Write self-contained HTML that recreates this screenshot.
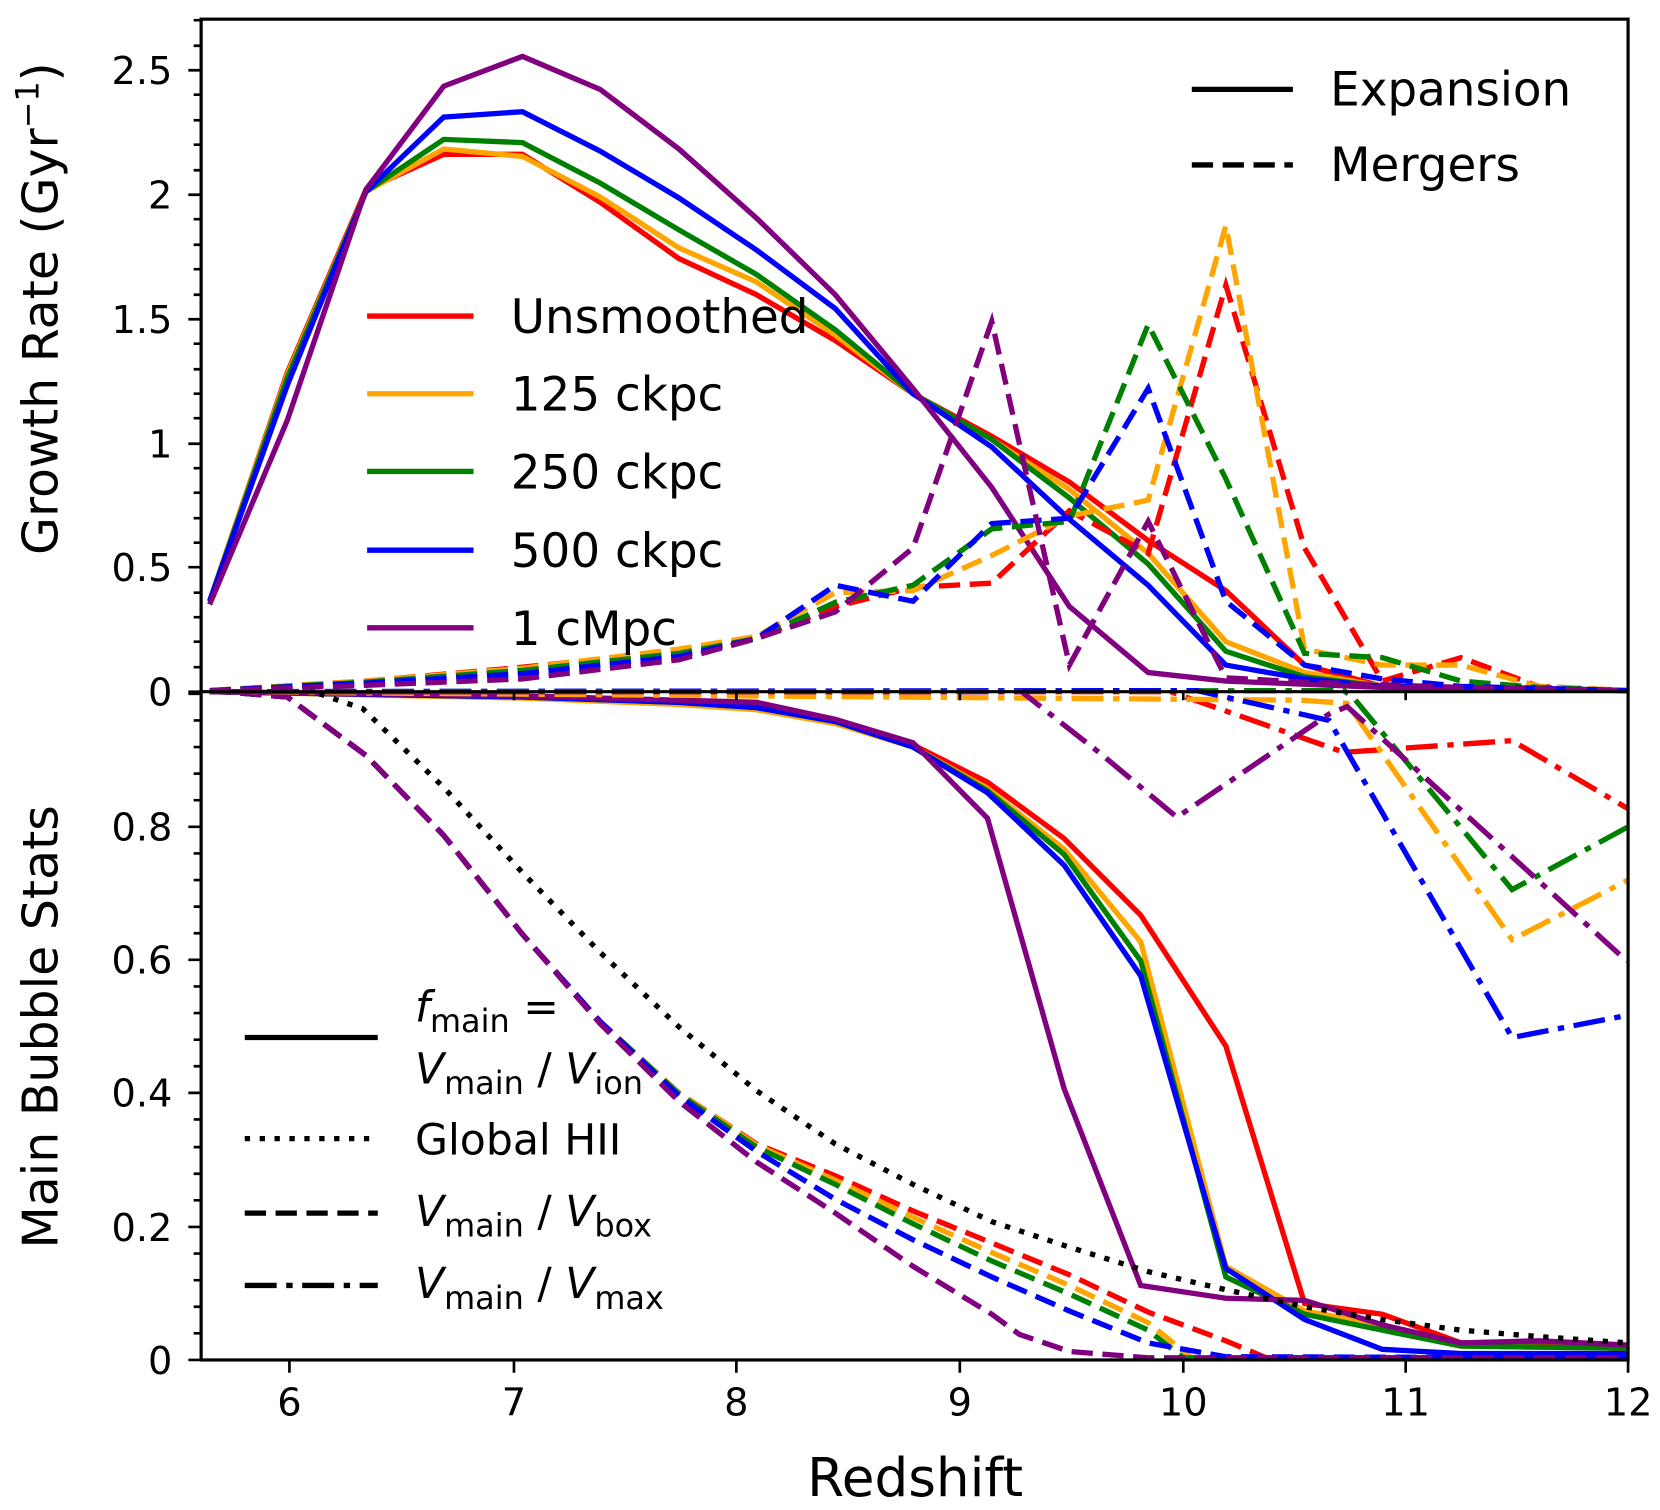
<!DOCTYPE html>
<html><head><meta charset="utf-8"><style>html,body{margin:0;padding:0;background:#fff}svg{display:block}text{font-family:"DejaVu Sans","Liberation Sans",sans-serif;fill:#000}</style></head>
<body>
<svg width="1660" height="1510" viewBox="0 0 1560 1419" preserveAspectRatio="none" xmlns="http://www.w3.org/2000/svg">
<g fill="none" stroke-width="5" stroke-linejoin="miter">
<!-- top solid -->
<polyline stroke="red" points="197,565 270,350 344,178 417,145 491,145 564,190 638,243 711,277 785,320 858,370 932,410 1005,453 1079,508 1152,555 1226,625 1299,645 1530,649"/>
<polyline stroke="orange" points="197,565 270,352 344,180 417,140 491,147 564,185 638,233 711,265 785,315 858,370 932,413 1005,460 1079,520 1152,603 1226,632 1299,645 1530,649"/>
<polyline stroke="green" points="197,565 270,355 344,180 417,131 491,134 564,172 638,216 711,258 785,310 858,370 932,413 1005,468 1079,530 1152,612 1226,636 1299,645 1530,649"/>
<polyline stroke="blue" points="197,565 270,362 344,180 417,110 491,105 564,142 638,186 711,235 785,290 858,370 932,420 1005,488 1079,550 1152,625 1226,638 1299,645 1530,649"/>
<polyline stroke="purple" points="197,568 270,395 344,178 417,81 491,53 564,84 638,140 711,205 785,277 858,365 932,458 1005,570 1079,632 1152,640 1226,643 1299,646 1530,649"/>
<!-- top dashed -->
<g stroke-dasharray="20,9">
<polyline stroke="red" points="197,649 344,640 491,627 638,612 711,600 785,570 858,552 932,548 1005,480 1079,520 1152,268 1226,515 1299,640 1373,618 1446,645 1530,649"/>
<polyline stroke="orange" points="197,649 344,640 491,628 638,610 711,598 785,557 858,555 932,522 1005,485 1079,470 1152,212 1226,610 1299,625 1373,625 1446,645 1530,649"/>
<polyline stroke="green" points="197,649 344,641 491,630 638,614 711,600 785,566 858,550 932,497 1005,490 1079,305 1152,450 1226,614 1299,618 1373,640 1446,646 1530,649"/>
<polyline stroke="blue" points="197,649 344,642 491,633 638,617 711,600 785,550 858,565 932,492 1005,487 1079,365 1152,565 1226,625 1299,638 1373,645 1530,649"/>
<polyline stroke="purple" points="197,649 344,644 491,638 638,620 711,600 785,575 858,515 932,302 1005,625 1079,490 1152,637 1226,641 1373,646 1530,649"/>
</g>
<!-- bottom solid -->
<polyline stroke="red" points="197,650 491,655 638,660 711,665 785,677 858,700 928,735 1000,788 1072,860 1152,983 1226,1225 1299,1235 1373,1262 1446,1262 1530,1268"/>
<polyline stroke="orange" points="197,650 491,656 638,662 711,667 785,680 858,702 928,741 1000,798 1072,885 1152,1190 1226,1232 1299,1245 1373,1265 1530,1267"/>
<polyline stroke="green" points="197,650 491,655 638,660 711,665 785,678 858,702 928,743 1000,803 1072,903 1152,1200 1226,1235 1299,1250 1373,1265 1530,1267"/>
<polyline stroke="blue" points="197,650 491,655 638,660 711,665 785,678 858,702 928,745 1000,813 1072,917 1152,1192 1226,1240 1299,1268 1373,1272 1530,1272"/>
<polyline stroke="purple" points="197,650 491,654 638,658 711,660 785,676 858,698 928,769 1000,1023 1072,1208 1152,1220 1226,1222 1299,1245 1373,1262 1446,1260 1530,1264"/>
<!-- dotted global -->
<polyline stroke="#000" stroke-dasharray="5,9" points="300,652 341,666 417,740 491,820 564,895 638,965 711,1025 785,1075 858,1113 932,1148 1005,1172 1079,1195 1152,1212 1226,1228 1299,1240 1373,1250 1446,1256 1530,1262"/>
<!-- dashed box -->
<g stroke-dasharray="20,9">
<polyline stroke="red" points="197,649 270,655 344,710 417,785 491,878 564,960 638,1027 711,1075 785,1105 858,1138 932,1168 1005,1198 1079,1233 1152,1260 1190,1276 1530,1276"/>
<polyline stroke="orange" points="197,649 270,655 344,710 417,785 491,878 564,960 638,1027 711,1076 785,1109 858,1144 932,1177 1005,1208 1079,1243 1120,1276 1530,1276"/>
<polyline stroke="green" points="197,649 270,655 344,710 417,785 491,878 564,960 638,1028 711,1078 785,1113 858,1150 932,1185 1005,1216 1079,1250 1112,1276 1530,1276"/>
<polyline stroke="blue" points="197,649 270,655 344,710 417,785 491,878 564,960 638,1030 711,1082 785,1127 858,1165 932,1200 1005,1232 1079,1262 1152,1275 1530,1276"/>
<polyline stroke="purple" points="197,649 270,655 344,710 417,785 491,878 564,962 638,1035 711,1092 785,1140 858,1190 932,1235 958,1254 1005,1270 1079,1276 1530,1276"/>
</g>
<!-- dash-dot max -->
<g stroke-dasharray="30,9,6,9">
<polyline stroke="red" points="197,650 1100,650 1263,707 1421,696 1530,760"/>
<polyline stroke="orange" points="197,650 1222,658 1266,661 1421,883 1530,827"/>
<polyline stroke="green" points="197,650 1263,649 1273,657 1421,836 1530,777"/>
<polyline stroke="blue" points="197,650 1125,649 1249,677 1421,975 1530,954"/>
<polyline stroke="purple" points="197,650 960,650 1034,708 1106,768 1249,671 1266,664 1522,897 1530,903"/>
</g>
</g>
<!-- axes -->
<g stroke="#000" stroke-width="3" fill="none">
<rect x="189" y="18" width="1341" height="1260"/>
<line x1="189" y1="650" x2="1530" y2="650"/>
</g>
<g stroke="#000" stroke-width="2.5">
<path d="M272,1278v12M483,1278v12M692,1278v12M902,1278v12M1112,1278v12M1321,1278v12M1530,1278v12"/>
<path d="M483,650v8M692,650v8M902,650v8M1112,650v8M1321,650v8"/>
<path d="M177,650h12M177,533h12M177,417h12M177,300h12M177,183h12M177,66h12"/>
<path d="M182,627h7M182,603h7M182,580h7M182,557h7M182,510h7M182,487h7M182,463h7M182,440h7M182,393h7M182,370h7M182,347h7M182,323h7M182,277h7M182,253h7M182,230h7M182,206h7M182,160h7M182,136h7M182,113h7M182,89h7M182,43h7M182,19h7"/>
<path d="M177,1278h12M177,1153h12M177,1027h12M177,902h12M177,777h12M177,652h12"/>
<path d="M182,1253h7M182,1228h7M182,1203h7M182,1178h7M182,1128h7M182,1103h7M182,1078h7M182,1052h7M182,1002h7M182,977h7M182,952h7M182,927h7M182,877h7M182,852h7M182,827h7M182,802h7M182,752h7M182,727h7M182,702h7M182,677h7"/>
</g>
<g font-size="36" text-anchor="end">
<text x="162" y="663">0</text><text x="162" y="546">0.5</text><text x="162" y="430">1</text><text x="162" y="313">1.5</text><text x="162" y="196">2</text><text x="162" y="79">2.5</text>
<text x="162" y="1291">0</text><text x="162" y="1166">0.2</text><text x="162" y="1040">0.4</text><text x="162" y="915">0.6</text><text x="162" y="790">0.8</text>
</g>
<g font-size="36" text-anchor="middle">
<text x="272" y="1330">6</text><text x="483" y="1330">7</text><text x="692" y="1330">8</text><text x="902" y="1330">9</text><text x="1112" y="1330">10</text><text x="1321" y="1330">11</text><text x="1530" y="1330">12</text>
</g>
<text x="860" y="1406" font-size="50" text-anchor="middle">Redshift</text>
<text transform="translate(54,290) rotate(-90)" font-size="46" text-anchor="middle">Growth Rate  (Gyr<tspan dy="-18" font-size="30">−1</tspan><tspan dy="18">)</tspan></text>
<text transform="translate(54,965) rotate(-90)" font-size="46" text-anchor="middle">Main Bubble Stats</text>
<g stroke-width="5" fill="none">
<line x1="1120" y1="84" x2="1215" y2="84" stroke="#000"/>
<line x1="1120" y1="155" x2="1215" y2="155" stroke="#000" stroke-dasharray="20,9"/>
<line x1="345" y1="297" x2="445" y2="297" stroke="red"/>
<line x1="345" y1="370" x2="445" y2="370" stroke="orange"/>
<line x1="345" y1="443" x2="445" y2="443" stroke="green"/>
<line x1="345" y1="517" x2="445" y2="517" stroke="blue"/>
<line x1="345" y1="590" x2="445" y2="590" stroke="purple"/>
<line x1="230" y1="975" x2="355" y2="975" stroke="#000"/>
<line x1="230" y1="1070" x2="355" y2="1070" stroke="#000" stroke-dasharray="5,9"/>
<line x1="230" y1="1140" x2="355" y2="1140" stroke="#000" stroke-dasharray="20,9"/>
<line x1="230" y1="1208" x2="355" y2="1208" stroke="#000" stroke-dasharray="30,9,6,9"/>
</g>
<g font-size="44">
<text x="1250" y="99">Expansion</text>
<text x="1250" y="170">Mergers</text>
<text x="480" y="313">Unsmoothed</text>
<text x="480" y="386">125 ckpc</text>
<text x="480" y="459">250 ckpc</text>
<text x="480" y="533">500 ckpc</text>
<text x="480" y="606">1 cMpc</text>
</g>
<g font-size="40">
<text x="390" y="960"><tspan font-style="italic">f</tspan><tspan font-size="30" dy="10">main</tspan><tspan dy="-10"> =</tspan></text>
<text x="390" y="1018"><tspan font-style="italic">V</tspan><tspan font-size="30" dy="10">main</tspan><tspan dy="-10"> / </tspan><tspan font-style="italic">V</tspan><tspan font-size="30" dy="10">ion</tspan></text>
<text x="390" y="1085">Global HII</text>
<text x="390" y="1152"><tspan font-style="italic">V</tspan><tspan font-size="30" dy="10">main</tspan><tspan dy="-10"> / </tspan><tspan font-style="italic">V</tspan><tspan font-size="30" dy="10">box</tspan></text>
<text x="390" y="1220"><tspan font-style="italic">V</tspan><tspan font-size="30" dy="10">main</tspan><tspan dy="-10"> / </tspan><tspan font-style="italic">V</tspan><tspan font-size="30" dy="10">max</tspan></text>
</g>
</svg>
</body></html>
